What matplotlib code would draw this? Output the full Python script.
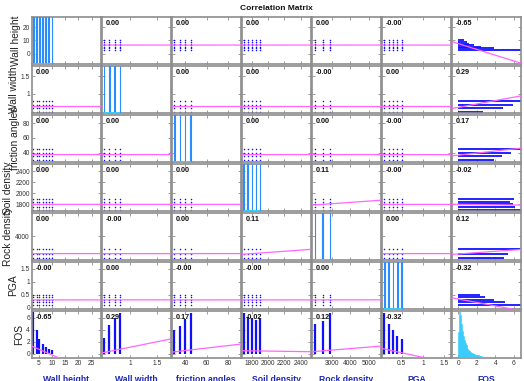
import numpy as np
import matplotlib
matplotlib.use("Agg")
import matplotlib.pyplot as plt

# ---------------- data ----------------
names = ["Wall height", "Wall width", "friction angles", "Soil density",
         "Rock density", "PGA", "FOS"]

wall_height = [3.0, 4.2, 5.3, 6.5, 7.7, 8.8, 10.0]
wall_width = [0.5, 0.6, 0.7, 0.8]
friction_angles = [30, 35, 40, 45]
soil_density = [1700, 1750, 1800, 1850, 1900]
rock_density = [2100, 2500, 2900]
pga = [0.1, 0.2, 0.3, 0.4, 0.5]

# sample counts at each design level (diagonal histograms)
wall_height_counts = [1200, 1200, 1200, 1200, 1200, 1200, 1200]
wall_width_counts = [2100, 2100, 2100, 2100]
friction_counts = [2100, 2100, 2100, 2100]
soil_counts = [1680, 1680, 1680, 1680, 1680]
rock_counts = [2800, 2800, 2800]
pga_counts = [1680, 1680, 1680, 1680, 1680]

# FOS range reached at each design level
fos_max_wall_height = [7.0, 3.9, 2.5, 1.7, 1.2, 0.9, 0.67]
fos_max_wall_width = [2.7, 4.8, 5.9, 6.8]
fos_max_friction = [3.9, 4.7, 5.7, 6.8]
fos_max_soil = [6.7, 6.1, 5.9, 5.6, 6.0]
fos_max_rock = [4.9, 5.4, 6.8]
fos_max_pga = [6.8, 5.0, 3.9, 2.9, 2.4]
fos_min = 0.03
fos_mean = 0.51
fos_std = 0.68

# FOS histogram (bins of 0.1 starting at 0)
fos_bin_start = 0.0
fos_bin_width = 0.1
fos_hist_counts = [550, 1000, 920, 720, 580, 470, 390, 320, 270, 230,
                   200, 170, 150, 130, 115, 100, 90, 80, 70, 65,
                   60, 55, 50, 45, 40, 35, 30, 20, 15, 12,
                   10, 9, 8, 8, 7, 7, 6, 6, 6, 5,
                   5, 5, 5, 4, 4, 4, 4, 4, 3, 3,
                   3, 3, 3, 3, 2, 2, 2, 2, 2, 2,
                   2, 1, 1, 1, 1, 1]

corr = [
    [1.00, 0.001, 0.001, 0.001, 0.001, -0.001, -0.65],
    [0.001, 1.00, 0.001, 0.001, -0.001, 0.001, 0.29],
    [0.001, 0.001, 1.00, 0.001, 0.001, -0.001, 0.17],
    [0.001, 0.001, 0.001, 1.00, 0.11, -0.001, -0.02],
    [0.001, -0.001, 0.001, 0.11, 1.00, 0.001, 0.12],
    [-0.001, 0.001, -0.001, -0.001, 0.001, 1.00, -0.32],
    [-0.65, 0.29, 0.17, -0.02, 0.12, -0.32, 1.00],
]

# ---------------- fonts ----------------
plt.rcParams["font.family"] = ["Liberation Sans", "DejaVu Sans"]
tick_fs = 4.8
num_fs = 5.2
lab_fs = 7.4
xlab_fs = 6.2
title_fs = 6.0

# ---------------- layout / style ----------------
levels = [wall_height, wall_width, friction_angles, soil_density, rock_density, pga]
counts = [wall_height_counts, wall_width_counts, friction_counts, soil_counts,
          rock_counts, pga_counts]
fos_max = [fos_max_wall_height, fos_max_wall_width, fos_max_friction,
           fos_max_soil, fos_max_rock, fos_max_pga]

xlims = [(2.5, 28.3), (0.46, 1.76), (27.7, 91.4), (1680, 2520),
         (1930, 5630), (0.045, 1.64), (-0.66, 6.7)]
ylims = [(-8, 28), (0.47, 1.78), (27.5, 91), (1680, 2530),
         (1950, 6000), (-0.05, 1.75), (-0.67, 7.1)]
xticks = [[5, 10, 15, 20, 25], [1, 1.5], [40, 60, 80], [1800, 2000, 2200, 2400],
          [3000, 4000, 5000], [0.5, 1, 1.5], [0, 2, 4, 6]]
yticks = [[0, 10, 20], [1, 1.5], [40, 60, 80], [1800, 2000, 2200, 2400],
          [4000], [0, 0.5, 1, 1.5], [0, 2, 4, 6]]

W, H = 524, 381
left0, top0 = 32, 17
pitch_x, pitch_y = 70, 49
aw, ah = 68.5, 47

BLUE = "#1010ff"
PINK = "#ff66ff"
GRAY = "#8c8c8c"
HFACE = "#3aa8f2"
HEDGE = "#30d8ff"
HBAR_EDGE = "#2a8cff"

means, stds = [], []
for lv in levels:
    means.append(float(np.mean(lv)))
    stds.append(float(np.std(lv)))
means.append(fos_mean)
stds.append(fos_std)

fig = plt.figure(figsize=(W / 100, H / 100), dpi=100)

n = 7
for i in range(n):
    for j in range(n):
        x0 = left0 + j * pitch_x
        y0 = top0 + i * pitch_y
        ax = fig.add_axes([x0 / W, 1 - (y0 + ah) / H, aw / W, ah / H])
        ax.set_xlim(*xlims[j])
        ax.set_ylim(*ylims[i])
        ax.set_xticks(xticks[j])
        ax.set_yticks(yticks[i])
        ax.xaxis.set_major_formatter(matplotlib.ticker.FormatStrFormatter("%g"))
        ax.yaxis.set_major_formatter(matplotlib.ticker.FormatStrFormatter("%g"))
        ax.tick_params(axis="both", direction="in", length=2, width=0.6,
                       color=GRAY, labelcolor="#333333", labelsize=tick_fs,
                       top=True, right=True, pad=1.5,
                       labelleft=(j == 0), labelbottom=(i == n - 1))
        for s in ax.spines.values():
            s.set_color(GRAY)
            s.set_linewidth(1.2)
        if j == 0:
            ax.set_ylabel(names[i], fontsize=lab_fs, color="#222222", labelpad=1.5)

        if i == j:
            ax2 = ax.twinx()
            ax2.set_yticks([])
            ax2.tick_params(right=False, labelright=False)
            for s in ax2.spines.values():
                s.set_visible(False)
            if i < 6:
                lv = levels[i]
                bw = (max(lv) - min(lv)) / 30
                ax2.bar(lv, counts[i], width=bw, color=HEDGE, edgecolor=HBAR_EDGE,
                        linewidth=0.8)
                ax2.hlines(0, min(lv), max(lv), color=HEDGE, lw=1.2)
                ax2.set_ylim(0, max(counts[i]))
            else:
                edges = fos_bin_start + fos_bin_width * np.arange(len(fos_hist_counts))
                ax2.bar(edges, fos_hist_counts, width=fos_bin_width, align="edge",
                        color=HFACE, edgecolor=HEDGE, linewidth=0.4)
                ax2.set_ylim(0, max(fos_hist_counts))
            ax2.set_xlim(*xlims[j])
            continue

        # scatter content
        if i < 6 and j < 6:
            gx, gy = np.meshgrid(levels[j], levels[i])
            ax.plot(gx.ravel(), gy.ravel(), ".", color=BLUE, ms=2.2, mew=0)
        elif i == 6:
            ax.vlines(levels[j], fos_min, fos_max[j], color=BLUE, lw=1.6)
        else:
            ax.hlines(levels[i], fos_min, fos_max[i], color=BLUE, lw=1.3)

        # least-squares line
        r = corr[i][j]
        slope = r * stds[i] / stds[j]
        xx = np.array(xlims[j])
        ax.plot(xx, means[i] + slope * (xx - means[j]), color=PINK, lw=0.9, zorder=4)

        ax.text(0.05, 0.855, f"{r:.2f}", transform=ax.transAxes, fontsize=num_fs,
                fontweight="bold", ha="left", va="center", color="#111111", zorder=6)

# column labels (bottom, bold blue)
for j in range(n):
    xc = left0 + j * pitch_x + aw / 2
    fig.text(xc / W, 1 - 375.5 / H, names[j], ha="center", va="top",
             fontsize=xlab_fs, fontweight="bold", color="#1c28b0")

fig.text((left0 + (6 * pitch_x + aw) / 2) / W, 1 - 8 / H, "Correlation Matrix",
         ha="center", va="center", fontsize=title_fs, fontweight="bold", color="#111111")

fig.savefig("out.png", dpi=100)
